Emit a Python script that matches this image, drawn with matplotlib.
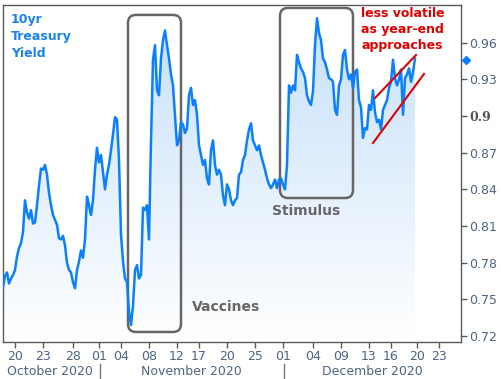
import numpy as np
import matplotlib
matplotlib.use("Agg")
import matplotlib.pyplot as plt
from matplotlib.patches import FancyBboxPatch
from matplotlib.colors import LinearSegmentedColormap
import matplotlib.transforms as mtransforms

# 10yr Treasury yield, intraday, Oct 19 - Dec 18 2020
yield_values = [
    0.760, 0.769, 0.772, 0.763, 0.767, 0.770, 0.774, 0.785, 0.792, 0.796,
    0.805, 0.831, 0.821, 0.816, 0.823, 0.812, 0.813, 0.827, 0.843, 0.857,
    0.856, 0.860, 0.852, 0.837, 0.827, 0.819, 0.815, 0.811, 0.800, 0.799,
    0.802, 0.794, 0.780, 0.774, 0.772, 0.764, 0.759, 0.774, 0.781, 0.790,
    0.784, 0.799, 0.834, 0.827, 0.819, 0.831, 0.856, 0.874, 0.862, 0.868,
    0.854, 0.840, 0.852, 0.860, 0.872, 0.885, 0.899, 0.897, 0.864, 0.803,
    0.781, 0.767, 0.764, 0.740, 0.729, 0.745, 0.774, 0.778, 0.767, 0.770,
    0.825, 0.823, 0.827, 0.799, 0.880, 0.946, 0.958, 0.921, 0.917, 0.947,
    0.962, 0.970, 0.958, 0.947, 0.934, 0.925, 0.901, 0.876, 0.880, 0.895,
    0.893, 0.886, 0.890, 0.917, 0.923, 0.909, 0.913, 0.901, 0.876, 0.868,
    0.860, 0.864, 0.849, 0.844, 0.872, 0.880, 0.860, 0.852, 0.856, 0.852,
    0.835, 0.827, 0.844, 0.840, 0.831, 0.827, 0.831, 0.833, 0.852, 0.854,
    0.864, 0.868, 0.880, 0.889, 0.894, 0.880, 0.876, 0.872, 0.876, 0.868,
    0.862, 0.856, 0.849, 0.844, 0.841, 0.844, 0.848, 0.841, 0.848, 0.849,
    0.844, 0.840, 0.860, 0.925, 0.919, 0.925, 0.921, 0.950, 0.944, 0.939,
    0.936, 0.931, 0.917, 0.912, 0.909, 0.920, 0.958, 0.980, 0.968, 0.962,
    0.947, 0.944, 0.938, 0.931, 0.930, 0.928, 0.905, 0.901, 0.925, 0.930,
    0.950, 0.954, 0.938, 0.930, 0.934, 0.923, 0.936, 0.938, 0.913, 0.907,
    0.882, 0.890, 0.889, 0.909, 0.905, 0.921, 0.903, 0.895, 0.897, 0.889,
    0.905, 0.909, 0.913, 0.923, 0.928, 0.946, 0.931, 0.925, 0.930, 0.938,
    0.901, 0.931, 0.934, 0.939, 0.928, 0.936, 0.947,
]

day_labels = ["20", "23", "28", "01", "04", "08", "12", "17", "20", "25",
              "01", "04", "09", "13", "16", "20", "23"]
day_ticks = [6, 20, 35, 48, 59, 73, 87, 98, 112, 126,
             140, 155, 169, 183, 194, 207, 218]

month_labels = ["October 2020", "November 2020", "December 2020"]
month_centers = [23.5, 94, 184.5]
month_breaks = [48.5, 140.5]

y_ticks = [0.72, 0.75, 0.78, 0.81, 0.84, 0.87, 0.90, 0.93, 0.96]
y_tick_labels = ["0.72", "0.75", "0.78", "0.81", "0.84", "0.87", "0.9", "0.93", "0.96"]

LINE = "#0a80ff"
GREY = "#666666"
SPINE = "#5a5a5a"
LABEL = "#4e6384"
RED = "#e00000"

fig = plt.figure(figsize=(5.01, 3.79), dpi=100)
ax = fig.add_axes([3 / 501, 37 / 379, 458 / 501, 337 / 379])

x = np.arange(len(yield_values))
ymin, ymax = 0.7151, 0.9908

# gradient area under the line
fill = ax.fill_between(x, yield_values, ymin, facecolor="none", edgecolor="none")
cmap = LinearSegmentedColormap.from_list("fade", ["#ffffff", "#c6e0fa"])
grad = np.linspace(0, 1, 256).reshape(-1, 1)
im = ax.imshow(grad, extent=[0, x[-1], ymin, 0.985], origin="lower",
               aspect="auto", cmap=cmap, zorder=1)
im.set_clip_path(fill.get_paths()[0], transform=ax.transData)

ax.plot(x, yield_values, color=LINE, lw=1.8, zorder=3)

ax.set_xlim(0, 229)
ax.set_ylim(ymin, ymax)

# rounded highlight boxes
for x0, x1, y0, y1 in [(62.5, 89, 0.7233, 0.9827), (138.5, 175, 0.8329, 0.9884)]:
    box = FancyBboxPatch((x0, y0), x1 - x0, y1 - y0,
                         boxstyle="round,pad=0,rounding_size=4",
                         mutation_aspect=1 / 611, fill=False,
                         edgecolor=GREY, lw=1.8, zorder=2.5)
    ax.add_patch(box)

# trend channel
ax.plot([186, 206.5], [0.9147, 0.9499], color=RED, lw=1.5, zorder=4)
ax.plot([185, 210.5], [0.8779, 0.9344], color=RED, lw=1.5, zorder=4)

# last value marker
ax.plot([231.5], [0.946], marker="D", color=LINE, markersize=4, clip_on=False)

ax.text(0.0175, 0.975, "10yr\nTreasury\nYield", transform=ax.transAxes,
        color="#1a82f0", fontsize=9, fontweight="bold", va="top", ha="left",
        linespacing=1.38)
ax.text(179, 0.9895, "less volatile\nas year-end\napproaches", color=RED,
        fontsize=9, fontweight="bold", va="top", ha="left", linespacing=1.3)
ax.text(94.5, 0.744, "Vaccines", color=GREY, fontsize=10, fontweight="bold",
        va="center", ha="left")
ax.text(134.5, 0.822, "Stimulus", color=GREY, fontsize=10, fontweight="bold",
        va="center", ha="left")

# axes styling
for sp in ax.spines.values():
    sp.set_color(SPINE)
    sp.set_linewidth(1)

ax.yaxis.tick_right()
ax.set_yticks(y_ticks, labels=y_tick_labels)
ax.set_xticks(day_ticks, labels=day_labels)
ax.tick_params(axis="both", length=4, width=1, color=SPINE, labelcolor=LABEL,
               labelsize=9)
ax.tick_params(axis="y", pad=2)
ax.tick_params(axis="x", pad=2)
for lbl in ax.get_yticklabels():
    if lbl.get_text() == "0.9":
        lbl.set_fontweight("bold")
        lbl.set_family("DejaVu Serif")
        lbl.set_color("#555555")

trans = mtransforms.blended_transform_factory(ax.transData, ax.transAxes)
for name, cx in zip(month_labels, month_centers):
    ax.text(cx, -0.089, name, transform=trans, ha="center", va="center",
            fontsize=9, color=LABEL)
for bx in month_breaks:
    ax.plot([bx, bx], [-0.066, -0.111], transform=trans, color="#777777",
            lw=1, clip_on=False)

fig.savefig("out.png", dpi=100)
